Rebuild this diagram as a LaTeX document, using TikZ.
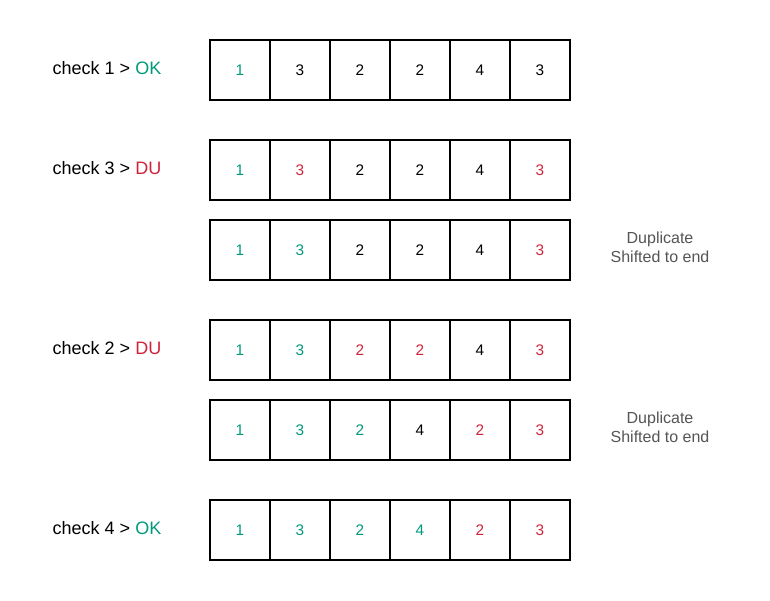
\documentclass[tikz,border=0pt]{standalone}
\usepackage{fontspec}
\setmainfont{Liberation Sans}
\definecolor{okgreen}{HTML}{00997A}
\definecolor{dured}{HTML}{D0233B}
\definecolor{notegray}{HTML}{555555}
\tikzset{
  cellbox/.style={draw, thick, minimum width=45pt, minimum height=45pt, inner sep=0pt, font=\fontsize{11.5}{13}\selectfont},
  checklabel/.style={anchor=west, font=\fontsize{13.5}{15}\selectfont},
  notetext/.style={align=center, text=notegray, font=\fontsize{12}{14.5}\selectfont}
}
\begin{document}
\begin{tikzpicture}[x=0.75pt, y=-0.75pt]
\useasboundingbox (0,0) rectangle (770,600);

% rows of cells: top y / digits with colours
\foreach \r/\ty/\cells in {
  1/40/{1/okgreen,3/black,2/black,2/black,4/black,3/black},
  2/140/{1/okgreen,3/dured,2/black,2/black,4/black,3/dured},
  3/220/{1/okgreen,3/okgreen,2/black,2/black,4/black,3/dured},
  4/320/{1/okgreen,3/okgreen,2/dured,2/dured,4/black,3/dured},
  5/400/{1/okgreen,3/okgreen,2/okgreen,4/black,2/dured,3/dured},
  6/500/{1/okgreen,3/okgreen,2/okgreen,4/okgreen,2/dured,3/dured}}{
  \foreach \d/\c [count=\i] in \cells {
    \node[cellbox, text=\c] (cell-\r-\i) at ({180+60*\i},\ty+30) {\d};
  }
}

% check labels
\node[checklabel] (check1) at (48,68) {check 1 > \textcolor{okgreen}{OK}};
\node[checklabel] (check3) at (48,168) {check 3 > \textcolor{dured}{DU}};
\node[checklabel] (check2) at (48,348) {check 2 > \textcolor{dured}{DU}};
\node[checklabel] (check4) at (48,528) {check 4 > \textcolor{okgreen}{OK}};

% notes
\node[notetext] (note1) at (660,247) {Duplicate\\Shifted to end};
\node[notetext] (note2) at (660,427) {Duplicate\\Shifted to end};
\end{tikzpicture}
\end{document}
